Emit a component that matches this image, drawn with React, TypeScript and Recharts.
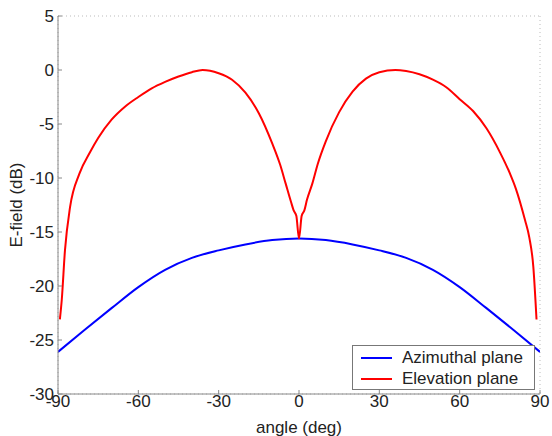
import React from 'react';
import { LineChart, Line, XAxis, YAxis, CartesianGrid } from 'recharts';

// elevation plane (dB)
const elevAngles = [
  -89.3, -88.6, -87.4, -85.5, -82, -78, -75, -70, -65, -60, -55, -50, -45, -40, -36, -30, -25, -20, -15, -10, -7, -5, -3, -2, -1,
  0,
  1, 2, 3, 5, 7, 10, 15, 20, 25, 30, 36, 40, 45, 50, 55, 60, 65, 70, 75, 78.8, 81, 84.4, 86, 87.5, 88.7,
];
const elevValues = [
  -23.1, -21.3, -16.7, -12.7, -9.6, -7.6, -6.3, -4.6, -3.4, -2.5, -1.7, -1.1, -0.6, -0.2, 0, -0.3, -0.9, -2.1, -4.0, -6.8, -8.8, -10.5, -12.2, -13.0, -13.5,
  -15.6,
  -13.5, -13.0, -12.0, -10.5, -8.7, -6.6, -3.9, -2.0, -0.8, -0.2, 0, -0.1, -0.4, -0.9, -1.6, -2.7, -3.8, -5.4, -7.6, -9.6, -11.0, -13.9, -15.5, -18.2, -23.1,
];

// azimuthal plane
const azimAngles = [-90, -80, -70, -60, -50, -40, -30, -20, -10, 0, 10, 20, 30, 40, 50, 60, 70, 80, 90];
const azimValues = [-26.1, -24.05, -22.05, -20.1, -18.5, -17.4, -16.7, -16.15, -15.75, -15.6, -15.75, -16.15, -16.7, -17.4, -18.5, -20.1, -22.05, -24.05, -26.1];

const xTicks = [-90, -60, -30, 0, 30, 60, 90];
const yTicks = [-30, -25, -20, -15, -10, -5, 0, 5];

const elevData = elevAngles.map((a, i) => ({ angle: a, value: elevValues[i] }));
const azimData = azimAngles.map((a, i) => ({ angle: a, value: azimValues[i] }));

const font = '"Liberation Sans", Arial, sans-serif';
const tickStyle = { fill: '#222', fontSize: 17, fontFamily: font };

function LegendBox() {
  const row = (color: string, text: string) => (
    <div style={{ display: 'flex', alignItems: 'center', height: 21 }}>
      <span style={{ display: 'inline-block', width: 31, height: 2, background: color, marginRight: 10 }} />
      <span>{text}</span>
    </div>
  );
  return (
    <div
      style={{
        position: 'absolute',
        left: 352,
        top: 345,
        width: 183,
        height: 45,
        boxSizing: 'border-box',
        border: '1px solid #777',
        background: '#fff',
        padding: '1px 0 0 8px',
        fontFamily: font,
        fontSize: 17,
        color: '#222',
      }}
    >
      {row('#0000ff', 'Azimuthal plane')}
      {row('#ff0000', 'Elevation plane')}
    </div>
  );
}

export default function App() {
  return (
    <div style={{ position: 'absolute', left: 0, top: 0, background: '#fff', width: 552, height: 436, overflow: 'hidden' }}>
      <LineChart width={552} height={436} margin={{ top: 16, right: 12, left: 0, bottom: 0 }}>
        <CartesianGrid stroke="#bbb" strokeDasharray="1 3" />
        <XAxis
          xAxisId="b"
          type="number"
          dataKey="angle"
          domain={[-90, 90]}
          ticks={xTicks}
          allowDataOverflow
          height={42}
          stroke="#888"
          tickSize={-4}
          tickMargin={5}
          tick={tickStyle}
          label={{ value: 'angle (deg)', position: 'insideBottom', offset: 3, fill: '#222', fontSize: 17, fontFamily: font }}
        />
        <XAxis
          xAxisId="t"
          orientation="top"
          type="number"
          dataKey="angle"
          domain={[-90, 90]}
          ticks={xTicks}
          height={0}
          stroke="#888"
          tickSize={-4}
          tick={false}
        />
        <YAxis
          yAxisId="l"
          type="number"
          domain={[-30, 5]}
          ticks={yTicks}
          allowDataOverflow
          width={58}
          stroke="#888"
          tickSize={-4}
          tickMargin={8}
          tick={tickStyle}
          label={{
            content: () => (
              <text x={18} y={205} transform="rotate(-90 18 205)" textAnchor="middle" dominantBaseline="middle" fill="#222" fontSize={17} fontFamily={font}>
                E-field (dB)
              </text>
            ),
          }}
        />
        <YAxis
          yAxisId="r"
          orientation="right"
          type="number"
          domain={[-30, 5]}
          ticks={yTicks}
          width={0}
          stroke="#888"
          tickSize={-4}
          tick={false}
        />
        <Line
          xAxisId="b"
          yAxisId="l"
          type="monotone"
          data={azimData}
          dataKey="value"
          name="Azimuthal plane"
          stroke="#0000ff"
          strokeWidth={2}
          dot={false}
          isAnimationActive={false}
        />
        <Line
          xAxisId="b"
          yAxisId="l"
          type="monotone"
          data={elevData}
          dataKey="value"
          name="Elevation plane"
          stroke="#ff0000"
          strokeWidth={2}
          dot={false}
          isAnimationActive={false}
        />
      </LineChart>
      <LegendBox />
    </div>
  );
}
